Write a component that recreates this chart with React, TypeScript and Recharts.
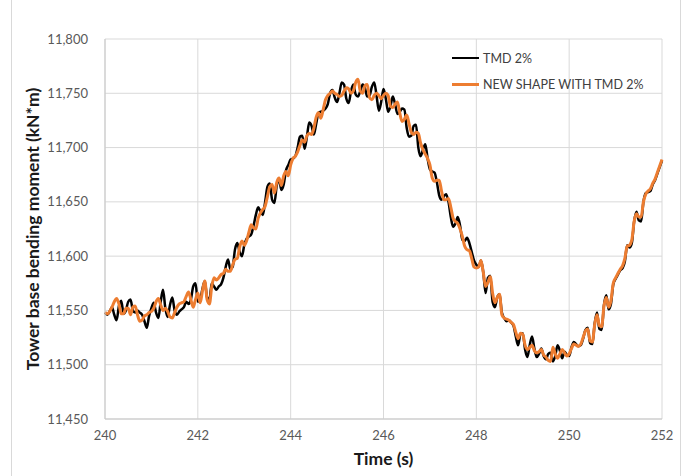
import { LineChart, Line, XAxis, YAxis, CartesianGrid, Legend, Label } from "recharts";

const FONT = "Lato, 'Open Sans', sans-serif";

// sampled every 0.05 s from 240 s to 252 s
const START_TIME = 240;
const STEP = 0.05;

const TMD_2 = [
  11548, 11546, 11549, 11553, 11546, 11541, 11554, 11559, 11547, 11550, 11558, 11560, 11550, 11548, 11550, 11548, 11546, 11540, 11534, 11545,
  11552, 11557, 11548, 11543, 11558, 11569, 11552, 11544, 11555, 11562, 11550, 11546, 11549, 11551, 11553, 11558, 11556, 11560, 11572, 11575,
  11558, 11560, 11570, 11577, 11562, 11560, 11575, 11572, 11569, 11572, 11574, 11580, 11590, 11597, 11588, 11590, 11606, 11612, 11604, 11600,
  11610, 11616, 11618, 11620, 11628, 11638, 11645, 11641, 11638, 11650, 11664, 11667, 11652, 11649, 11665, 11671, 11661, 11666, 11679, 11684,
  11689, 11690, 11692, 11700, 11710, 11711, 11699, 11710, 11723, 11720, 11712, 11722, 11732, 11733, 11734, 11736, 11740, 11750, 11753, 11746,
  11742, 11750, 11760, 11758, 11745, 11741, 11752, 11758, 11749, 11747, 11752, 11758, 11755, 11747, 11748, 11756, 11760, 11748, 11734, 11742,
  11754, 11745, 11733, 11738, 11747, 11740, 11731, 11733, 11736, 11735, 11718, 11710, 11711, 11720, 11721, 11700, 11692, 11698, 11703, 11690,
  11680, 11678, 11677, 11668, 11656, 11652, 11655, 11657, 11650, 11636, 11627, 11630, 11636, 11628, 11615, 11614, 11617, 11612, 11604, 11596,
  11592, 11590, 11596, 11585, 11566, 11580, 11582, 11558, 11553, 11562, 11565, 11548, 11543, 11540, 11541, 11539, 11536, 11526, 11518, 11528,
  11529, 11514, 11507, 11518, 11526, 11515, 11507, 11510, 11515, 11508, 11505, 11510, 11511, 11503, 11508, 11518, 11513, 11506, 11512, 11509,
  11508, 11516, 11521, 11519, 11517, 11518, 11524, 11532, 11534, 11520, 11519, 11538, 11548, 11533, 11532, 11555, 11564, 11551, 11556, 11574,
  11579, 11583, 11587, 11589, 11595, 11610, 11608, 11612, 11632, 11641, 11633, 11632, 11650, 11658, 11659, 11660, 11666, 11670, 11676, 11682,
  11688,
];

const NEW_SHAPE_TMD_2 = [
  11548, 11547, 11549, 11553, 11558, 11561, 11556, 11547, 11547, 11552, 11552, 11546, 11553, 11554, 11546, 11540, 11541, 11545, 11546, 11548,
  11549, 11552, 11558, 11561, 11555, 11550, 11552, 11549, 11544, 11543, 11548, 11553, 11556, 11557, 11558, 11563, 11567, 11560, 11553, 11560,
  11566, 11557, 11568, 11577, 11560, 11556, 11572, 11580, 11578, 11580, 11583, 11584, 11588, 11586, 11586, 11592, 11597, 11598, 11608, 11614,
  11610, 11614, 11622, 11629, 11626, 11625, 11635, 11640, 11643, 11646, 11655, 11664, 11666, 11658, 11668, 11672, 11665, 11674, 11678, 11674,
  11684, 11690, 11692, 11696, 11702, 11707, 11705, 11711, 11713, 11712, 11718, 11728, 11732, 11727, 11735, 11744, 11748, 11750, 11752, 11750,
  11749, 11747, 11748, 11752, 11755, 11754, 11750, 11752, 11760, 11763, 11752, 11750, 11757, 11758, 11746, 11744, 11748, 11750, 11748, 11745,
  11748, 11750, 11748, 11738, 11737, 11740, 11742, 11732, 11724, 11726, 11730, 11722, 11714, 11712, 11714, 11713, 11704, 11698, 11694, 11690,
  11684, 11672, 11669, 11670, 11670, 11660, 11652, 11652, 11653, 11645, 11635, 11632, 11630, 11625, 11618, 11609, 11606, 11605, 11598, 11590,
  11589, 11590, 11596, 11585, 11572, 11576, 11581, 11566, 11557, 11562, 11565, 11546, 11543, 11542, 11541, 11539, 11537, 11530, 11524, 11529,
  11528, 11518, 11514, 11516, 11518, 11513, 11511, 11512, 11514, 11509, 11507, 11504, 11503, 11516, 11510, 11506, 11510, 11514, 11511, 11508,
  11510, 11515, 11519, 11518, 11517, 11519, 11525, 11531, 11533, 11522, 11521, 11537, 11546, 11536, 11535, 11554, 11562, 11553, 11559, 11575,
  11580, 11584, 11588, 11591, 11598, 11609, 11610, 11615, 11632, 11639, 11636, 11636, 11650, 11657, 11660, 11662, 11667, 11671, 11677, 11683,
  11689,
];

const X_TICKS = [240, 242, 244, 246, 248, 250, 252];
const Y_TICKS = [11450, 11500, 11550, 11600, 11650, 11700, 11750, 11800];

const SERIES = [
  { key: "tmd", label: "TMD 2%", color: "#000000", width: 2.5 },
  { key: "shape", label: "NEW SHAPE WITH TMD 2%", color: "#ED7D31", width: 3 },
];

const rows = TMD_2.map((v, i) => ({
  t: +(START_TIME + i * STEP).toFixed(2),
  tmd: v,
  shape: NEW_SHAPE_TMD_2[i],
}));

const fmt = (n: number) => n.toLocaleString("en-US");

function LegendBox() {
  return (
    <div style={{ fontFamily: FONT, fontSize: 12.5, color: "#404040" }}>
      {SERIES.map(s => (
        <div key={s.key} style={{ display: "flex", alignItems: "center", height: 26 }}>
          <span style={{ width: 27, height: s.width, background: s.color, marginRight: 4 }} />
          <span>{s.label}</span>
        </div>
      ))}
    </div>
  );
}

function YTitle({ viewBox }: any) {
  const x = viewBox.x + 32;
  const y = viewBox.y + viewBox.height / 2;
  return (
    <text
      x={x}
      y={y}
      transform={`rotate(-90 ${x} ${y})`}
      textAnchor="middle"
      dominantBaseline="central"
      fontFamily={FONT}
      fontSize={17.5}
      fontWeight={700}
      fill="#1a1a1a"
    >
      Tower base bending moment (kN*m)
    </text>
  );
}

function XTitle({ viewBox }: any) {
  return (
    <text
      x={viewBox.x + viewBox.width / 2}
      y={458}
      textAnchor="middle"
      dominantBaseline="central"
      fontFamily={FONT}
      fontSize={17.5}
      fontWeight={700}
      fill="#1a1a1a"
    >
      Time (s)
    </text>
  );
}

export default function App() {
  const tick = { fontFamily: FONT, fontSize: 13, fill: "#595959" };
  return (
    <div style={{ position: "fixed", left: 0, top: 0, width: 688, height: 476, background: "#fff" }}>
      <div style={{ position: "absolute", left: 11, top: 0, width: 1, height: 476, background: "#d9d9d9" }} />
      <div style={{ position: "absolute", left: 680, top: 0, width: 1, height: 476, background: "#d9d9d9" }} />
      <LineChart
        width={688}
        height={476}
        data={rows}
        margin={{ top: 39, right: 26, bottom: 0, left: 0 }}
      >
        <CartesianGrid stroke="#d9d9d9" strokeWidth={1} />
        <XAxis
          type="number"
          dataKey="t"
          domain={[240, 252]}
          ticks={X_TICKS}
          interval={0}
          height={57}
          tickSize={0}
          tickMargin={12}
          tick={tick}
          axisLine={{ stroke: "#c8c8c8" }}
        >
          <Label content={<XTitle />} />
        </XAxis>
        <YAxis
          type="number"
          domain={[11450, 11800]}
          ticks={Y_TICKS}
          interval={0}
          width={105}
          tickSize={0}
          tickMargin={17}
          tick={tick}
          tickFormatter={fmt}
          axisLine={{ stroke: "#c8c8c8" }}
        >
          <Label content={<YTitle />} />
        </YAxis>
        <Legend
          layout="vertical"
          align="center"
          verticalAlign="middle"
          content={() => <LegendBox />}
          wrapperStyle={{ left: 452, top: 45, width: 230 }}
        />
        {SERIES.map(s => (
          <Line
            key={s.key}
            dataKey={s.key}
            type="monotone"
            stroke={s.color}
            strokeWidth={s.width}
            dot={false}
            activeDot={false}
            isAnimationActive={false}
          />
        ))}
      </LineChart>
    </div>
  );
}
